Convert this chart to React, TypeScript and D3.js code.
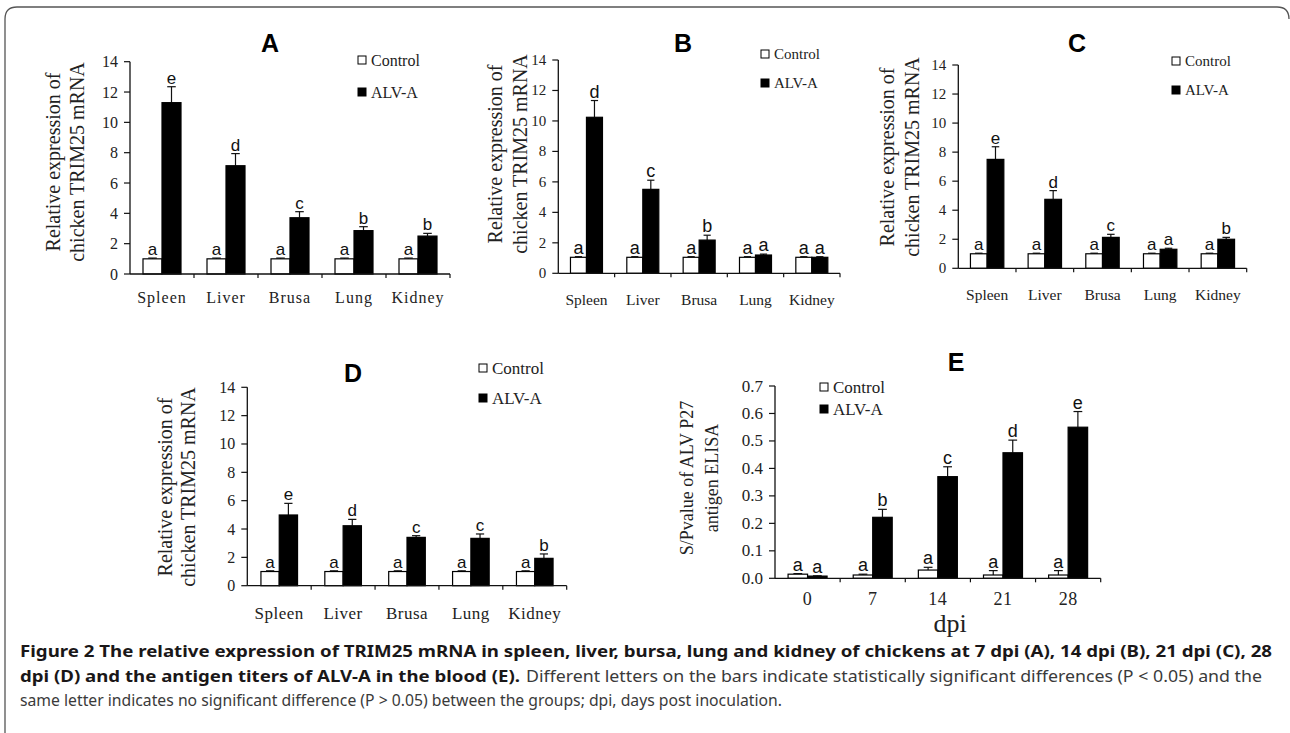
import React from "react";
import * as d3 from "d3";

// ---------- data ----------
const tissues = ["Spleen", "Liver", "Brusa", "Lung", "Kidney"];
const dpiDays = ["0", "7", "14", "21", "28"];
const seriesNames = ["Control", "ALV-A"];

// Panel A (7 dpi)
const ctrlA = [1, 1, 1, 1, 1];
const ctrlErrA = [0.05, 0.05, 0.05, 0.05, 0.05];
const alvA = [11.3, 7.14, 3.71, 2.86, 2.5];
const alvErrA = [1.05, 0.8, 0.4, 0.26, 0.18];
const ctrlLettersA = ["a", "a", "a", "a", "a"];
const alvLettersA = ["e", "d", "c", "b", "b"];

// Panel B (14 dpi)
const ctrlB = [1.05, 1.05, 1.05, 1.05, 1.05];
const ctrlErrB = [0.04, 0.04, 0.04, 0.04, 0.04];
const alvB = [10.24, 5.51, 2.18, 1.2, 1.05];
const alvErrB = [1.1, 0.6, 0.32, 0.06, 0.04];
const ctrlLettersB = ["a", "a", "a", "a", "a"];
const alvLettersB = ["d", "c", "b", "a", "a"];

// Panel C (21 dpi)
const ctrlC = [1, 1, 1, 1, 1];
const ctrlErrC = [0.04, 0.04, 0.04, 0.04, 0.04];
const alvC = [7.5, 4.75, 2.13, 1.31, 2.0];
const alvErrC = [0.87, 0.6, 0.21, 0.07, 0.13];
const ctrlLettersC = ["a", "a", "a", "a", "a"];
const alvLettersC = ["e", "d", "c", "a", "b"];

// Panel D (28 dpi)
const ctrlD = [1, 1, 1, 1, 1];
const ctrlErrD = [0.05, 0.05, 0.05, 0.05, 0.05];
const alvD = [4.99, 4.23, 3.41, 3.34, 1.93];
const alvErrD = [0.82, 0.45, 0.12, 0.31, 0.31];
const ctrlLettersD = ["a", "a", "a", "a", "a"];
const alvLettersD = ["e", "d", "c", "c", "b"];

// Panel E (ELISA S/P)
const ctrlE = [0.015, 0.012, 0.03, 0.012, 0.012];
const ctrlErrE = [0.002, 0.003, 0.01, 0.016, 0.016];
const alvE = [0.008, 0.222, 0.37, 0.457, 0.55];
const alvErrE = [0.001, 0.029, 0.036, 0.046, 0.057];
const ctrlLettersE = ["a", "a", "a", "a", "a"];
const alvLettersE = ["a", "b", "c", "d", "e"];

const yLabelMRNA = ["Relative expression of", "chicken TRIM25 mRNA"];
const yLabelELISA = ["S/Pvalue of ALV P27", "antigen ELISA"];

const captionBold1 =
  "Figure 2  The relative expression of TRIM25 mRNA in spleen, liver, bursa, lung and kidney of chickens at 7 dpi (A), 14 dpi (B), 21 dpi (C), 28";
const captionBold2 = "dpi (D) and the antigen titers of ALV-A in the blood (E).";
const captionReg2 =
  "Different letters on the bars indicate statistically significant differences (P < 0.05) and the";
const captionReg3 =
  "same letter indicates no significant difference (P > 0.05) between the groups; dpi, days post inoculation.";

// ---------- layout ----------
type Cfg = {
  title: string;
  axisX: number;
  y0: number;
  yTop: number;
  xEnd: number;
  barW: number;
  titleX: number;
  titleY: number;
  legX: number;
  legY1: number;
  legY2: number;
  legFs: number;
  ylX1: number;
  ylX2: number;
  ylCy: number;
  ylFs: number;
  catY: number;
  catFs: number;
  catLs: number;
  tickFs: number;
  letterFs: number;
};

const SERIF = "'Liberation Serif', 'Times New Roman', serif";
const SANS = "'Liberation Sans', Arial, sans-serif";

function Panel(props: {
  cfg: Cfg;
  cats: string[];
  ctrl: number[];
  ctrlErr: number[];
  alv: number[];
  alvErr: number[];
  ctrlLetters: string[];
  alvLetters: string[];
  yMax: number;
  yStep: number;
  fmt: (v: number) => string;
  yLabel: string[];
}) {
  const { cfg, cats, ctrl, ctrlErr, alv, alvErr, ctrlLetters, alvLetters, yMax, yStep, fmt, yLabel } = props;
  const y = d3.scaleLinear().domain([0, yMax]).range([cfg.y0, cfg.yTop]);
  const xb = d3.scaleBand<string>().domain(cats).range([cfg.axisX, cfg.xEnd]).padding(0);
  const bw = cfg.barW;
  const ticks = d3.range(0, yMax + yStep / 2, yStep);
  const ink = "#111";
  const capW = bw * 0.45;

  const bars = (vals: number[], errs: number[], letters: string[], isCtrl: boolean) =>
    cats.map((c, i) => {
      const cx = (xb(c) as number) + xb.bandwidth() / 2;
      const bx = isCtrl ? cx - bw : cx;
      const mid = bx + bw / 2;
      const top = y(vals[i]);
      const eTop = y(vals[i] + errs[i]);
      return (
        <g key={(isCtrl ? "c" : "a") + i}>
          <line x1={mid} x2={mid} y1={top} y2={eTop} stroke={ink} strokeWidth={1.2} />
          <line x1={mid - capW / 2} x2={mid + capW / 2} y1={eTop} y2={eTop} stroke={ink} strokeWidth={1.2} />
          <rect
            x={bx}
            y={top}
            width={bw}
            height={cfg.y0 - top}
            fill={isCtrl ? "#fff" : "#000"}
            stroke="#000"
            strokeWidth={1.2}
          />
          <text
            x={mid}
            y={eTop - 3}
            textAnchor="middle"
            fontFamily={SANS}
            fontSize={cfg.letterFs}
            fill={ink}
          >
            {letters[i]}
          </text>
        </g>
      );
    });

  return (
    <g>
      <text x={cfg.titleX} y={cfg.titleY} textAnchor="middle" fontFamily={SANS} fontWeight="bold" fontSize={25} fill="#000">
        {cfg.title}
      </text>
      {seriesNames.map((s, i) => {
        const ly = i === 0 ? cfg.legY1 : cfg.legY2;
        return (
          <g key={s}>
            <rect
              x={cfg.legX}
              y={ly - 4}
              width={8}
              height={8}
              fill={i === 0 ? "#fff" : "#000"}
              stroke="#000"
              strokeWidth={1}
            />
            <text x={cfg.legX + 13} y={ly} dominantBaseline="central" fontFamily={SERIF} fontSize={cfg.legFs} fill="#222">
              {s}
            </text>
          </g>
        );
      })}
      {yLabel.map((t, i) => {
        const lx = i === 0 ? cfg.ylX1 : cfg.ylX2;
        return (
          <text
            key={t}
            transform={`translate(${lx},${cfg.ylCy}) rotate(-90)`}
            textAnchor="middle"
            dominantBaseline="central"
            fontFamily={SERIF}
            fontSize={cfg.ylFs}
            fill="#222"
          >
            {t}
          </text>
        );
      })}
      {bars(ctrl, ctrlErr, ctrlLetters, true)}
      {bars(alv, alvErr, alvLetters, false)}
      <line x1={cfg.axisX} x2={cfg.axisX} y1={cfg.y0} y2={y(yMax)} stroke={ink} strokeWidth={1.3} />
      {ticks.map((t) => (
        <g key={t}>
          <line x1={cfg.axisX - 6} x2={cfg.axisX} y1={y(t)} y2={y(t)} stroke={ink} strokeWidth={1.2} />
          <text
            x={cfg.axisX - 12}
            y={y(t)}
            textAnchor="end"
            dominantBaseline="central"
            fontFamily={SERIF}
            fontSize={cfg.tickFs}
            fill="#222"
          >
            {fmt(t)}
          </text>
        </g>
      ))}
      <line x1={cfg.axisX} x2={cfg.xEnd} y1={cfg.y0} y2={cfg.y0} stroke={ink} strokeWidth={1.3} />
      {cats.slice(1).map((c) => (
        <line key={c} x1={xb(c) as number} x2={xb(c) as number} y1={cfg.y0} y2={cfg.y0 + 4} stroke={ink} strokeWidth={1.2} />
      ))}
      <line x1={cfg.xEnd} x2={cfg.xEnd} y1={cfg.y0} y2={cfg.y0 + 4} stroke={ink} strokeWidth={1.2} />
      {cats.map((c) => (
        <text
          key={c}
          x={(xb(c) as number) + xb.bandwidth() / 2}
          y={cfg.catY}
          textAnchor="middle"
          fontFamily={SERIF}
          fontSize={cfg.catFs}
          letterSpacing={cfg.catLs}
          fill="#222"
        >
          {c}
        </text>
      ))}
    </g>
  );
}

const cfgA: Cfg = {
  title: "A", axisX: 130, y0: 274, yTop: 61.7, xEnd: 450, barW: 19,
  titleX: 270, titleY: 52, legX: 358, legY1: 60, legY2: 92, legFs: 16,
  ylX1: 53, ylX2: 77, ylCy: 162, ylFs: 20, catY: 303, catFs: 16, catLs: 1, tickFs: 16, letterFs: 17,
};
const cfgB: Cfg = {
  title: "B", axisX: 558.3, y0: 273.3, yTop: 60, xEnd: 840, barW: 16,
  titleX: 683, titleY: 52, legX: 761, legY1: 54, legY2: 83, legFs: 15,
  ylX1: 495, ylX2: 520, ylCy: 154, ylFs: 20, catY: 305, catFs: 15.5, catLs: 0, tickFs: 15, letterFs: 18,
};
const cfgC: Cfg = {
  title: "C", axisX: 958.3, y0: 268.3, yTop: 65, xEnd: 1246.7, barW: 16.7,
  titleX: 1077, titleY: 52, legX: 1172, legY1: 61, legY2: 90, legFs: 15,
  ylX1: 887, ylX2: 912, ylCy: 157, ylFs: 20, catY: 300, catFs: 15.5, catLs: 0, tickFs: 15, letterFs: 17,
};
const cfgD: Cfg = {
  title: "D", axisX: 247.3, y0: 585.7, yTop: 387.3, xEnd: 566.7, barW: 18.3,
  titleX: 353, titleY: 382, legX: 479, legY1: 368, legY2: 398, legFs: 17,
  ylX1: 165, ylX2: 188, ylCy: 487, ylFs: 20, catY: 619, catFs: 17, catLs: 0.5, tickFs: 16, letterFs: 17,
};
const cfgE: Cfg = {
  title: "E", axisX: 775, y0: 578.3, yTop: 386, xEnd: 1100.7, barW: 19.5,
  titleX: 956, titleY: 371, legX: 820, legY1: 387, legY2: 409, legFs: 17,
  ylX1: 687, ylX2: 712, ylCy: 478, ylFs: 18, catY: 605, catFs: 18, catLs: 0.5, tickFs: 17, letterFs: 18,
};

export default function App() {
  const intFmt = (v: number) => d3.format("d")(v);
  const decFmt = (v: number) => d3.format(".1f")(v);
  const capFont = "'Noto Sans', 'Open Sans', sans-serif";
  return (
    <svg
      width={1290}
      height={733}
      viewBox="0 0 1290 733"
      style={{ position: "absolute", left: 0, top: 0, background: "#fff" }}
    >
      <rect x={0} y={0} width={1290} height={733} fill="#fff" />
      <path d="M5,733 V19 Q5,7 17,7 H1277 Q1289,7 1289,19" fill="none" stroke="#555" strokeWidth={1.3} />
      <Panel cfg={cfgA} cats={tissues} ctrl={ctrlA} ctrlErr={ctrlErrA} alv={alvA} alvErr={alvErrA}
        ctrlLetters={ctrlLettersA} alvLetters={alvLettersA} yMax={14} yStep={2} fmt={intFmt} yLabel={yLabelMRNA} />
      <Panel cfg={cfgB} cats={tissues} ctrl={ctrlB} ctrlErr={ctrlErrB} alv={alvB} alvErr={alvErrB}
        ctrlLetters={ctrlLettersB} alvLetters={alvLettersB} yMax={14} yStep={2} fmt={intFmt} yLabel={yLabelMRNA} />
      <Panel cfg={cfgC} cats={tissues} ctrl={ctrlC} ctrlErr={ctrlErrC} alv={alvC} alvErr={alvErrC}
        ctrlLetters={ctrlLettersC} alvLetters={alvLettersC} yMax={14} yStep={2} fmt={intFmt} yLabel={yLabelMRNA} />
      <Panel cfg={cfgD} cats={tissues} ctrl={ctrlD} ctrlErr={ctrlErrD} alv={alvD} alvErr={alvErrD}
        ctrlLetters={ctrlLettersD} alvLetters={alvLettersD} yMax={14} yStep={2} fmt={intFmt} yLabel={yLabelMRNA} />
      <Panel cfg={cfgE} cats={dpiDays} ctrl={ctrlE} ctrlErr={ctrlErrE} alv={alvE} alvErr={alvErrE}
        ctrlLetters={ctrlLettersE} alvLetters={alvLettersE} yMax={0.7} yStep={0.1} fmt={decFmt} yLabel={yLabelELISA} />
      <text x={950} y={632} textAnchor="middle" fontFamily={SERIF} fontSize={26} fill="#222">dpi</text>

      <text x={20} y={657} fontFamily={capFont} fontWeight="bold" fontSize={16.5} fill="#1a1718"
        textLength={1252} lengthAdjust="spacingAndGlyphs">{captionBold1}</text>
      <text x={20} y={682} fontFamily={capFont} fontWeight="bold" fontSize={16.5} fill="#1a1718"
        textLength={500} lengthAdjust="spacingAndGlyphs">{captionBold2}</text>
      <text x={526} y={682} fontFamily={capFont} fontSize={16.5} fill="#3a3a3a"
        textLength={736} lengthAdjust="spacingAndGlyphs">{captionReg2}</text>
      <text x={20} y={706} fontFamily={capFont} fontSize={16.5} fill="#3a3a3a"
        textLength={762} lengthAdjust="spacingAndGlyphs">{captionReg3}</text>
    </svg>
  );
}
